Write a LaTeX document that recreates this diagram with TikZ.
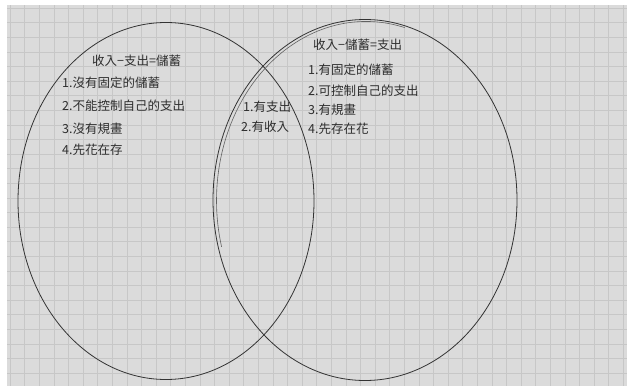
\documentclass[tikz,border=0pt]{standalone}
\usepackage{fontspec}
\usetikzlibrary{shapes.geometric}
\newfontfamily\cjk{Noto Sans CJK TC}
\begin{document}
\begin{tikzpicture}[x=1pt,y=-1pt,
  hand/.style={font=\cjk\fontsize{12.5}{14}\selectfont, text=black!82, inner sep=0pt, anchor=west},
  ring/.style={draw=black!80, line width=0.8pt, inner sep=0pt},
  ring2/.style={draw=black!62, line width=0.6pt}]
\useasboundingbox (0,0) rectangle (627,388);
\fill[white] (0,0) rectangle (627,388);
\fill[black!14] (7,5) rectangle (627,386);
\begin{scope}
\clip (7,5) rectangle (627,386);
\foreach \i in {0,...,43} {\draw[black!22, line width=0.5pt] (10+14.6*\i,5) -- (10+14.6*\i,386);}
\foreach \j in {0,...,26} {\draw[black!22, line width=0.5pt] (7,8+14.6*\j) -- (627,8+14.6*\j);}
\end{scope}
% circles
\node[ring, ellipse, minimum width=296pt, minimum height=357pt] (L) at (166,201) {};
\node[ring, ellipse, minimum width=304pt, minimum height=361pt] (R) at (365,200) {};
\draw[ring2] (R.center) ++(1,0.5) ++(285:149.5 and 179) arc[start angle=285, end angle=165, x radius=149.5, y radius=179];
% left texts
\node[hand] (lt) at (92,61) {收入−支出=儲蓄};
\node[hand] (l1) at (62,83) {1.沒有固定的儲蓄};
\node[hand] (l2) at (62,106) {2.不能控制自己的支出};
\node[hand] (l3) at (62,129) {3.沒有規畫};
\node[hand] (l4) at (62,150) {4.先花在存};
% right texts
\node[hand] (rt) at (313,45) {收入−儲蓄=支出};
\node[hand] (r1) at (308,70) {1.有固定的儲蓄};
\node[hand] (r2) at (308,91) {2.可控制自己的支出};
\node[hand] (r3) at (308,110) {3.有規畫};
\node[hand] (r4) at (308,129) {4.先存在花};
% middle
\node[hand] (m1) at (243,107) {1.有支出};
\node[hand] (m2) at (241,127) {2.有收入};
\end{tikzpicture}
\end{document}
